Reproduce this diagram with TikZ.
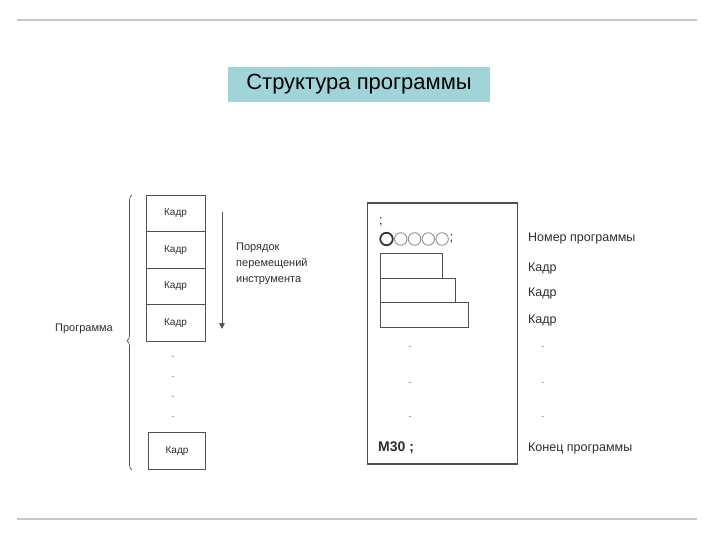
\documentclass[tikz,border=0pt]{standalone}
\usepackage{fontspec}
\setmainfont{Liberation Sans}
\usepackage{xcolor}
\usepackage{tikz}
\usetikzlibrary{arrows.meta,positioning,decorations.pathreplacing}
\definecolor{ink}{HTML}{2E2E2E}
\definecolor{pencil}{HTML}{505050}
\definecolor{rule}{HTML}{C8C8C8}
\definecolor{banner}{HTML}{A0D4D8}
\definecolor{faint}{HTML}{909090}
\tikzset{
  frame/.style={
    draw=pencil, line width=0.8pt, minimum width=59pt, minimum height=36.5pt,
    inner sep=0pt, font=\fontsize{10}{12}\selectfont\color{ink}},
  blockbar/.style={draw=pencil, line width=1pt, inner sep=0pt, minimum height=24.5pt, anchor=north west},
  note/.style={font=\fontsize{11}{16}\selectfont\color{ink}, align=left, inner sep=0pt, anchor=west},
  tag/.style={font=\fontsize{12.5}{14}\selectfont\color{ink}, inner sep=0pt, anchor=west},
  dotmark/.style={font=\fontsize{10}{10}\selectfont\color{faint}, inner sep=0pt},
  ring/.style={circle, draw=faint, line width=0.9pt, minimum size=12.5pt, inner sep=0pt},
}

\begin{document}
\begin{tikzpicture}[x=1pt, y=-1pt]
  \useasboundingbox (0,0) rectangle (720,540);
  \coordinate (rl) at (17,20);  \coordinate (rr) at (697,20);
  \coordinate (bl) at (17,519); \coordinate (br) at (697,519);
  \draw[rule, line width=1.2pt] (rl) -- (rr);
  \draw[rule, line width=1.2pt] (bl) -- (br);

  % title
  \node[fill=banner, minimum width=262pt, minimum height=35pt, inner sep=0pt,
        font=\fontsize{22}{24}\selectfont] (title) at (359,84.5) {Структура программы};

  % program as a column of blocks
  \node[frame] (k1) at (175.5,213.5) {Кадр};
  \node[frame, below=-0.8pt of k1] (k2) {Кадр};
  \node[frame, below=-0.8pt of k2] (k3) {Кадр};
  \node[frame, below=-0.8pt of k3] (k4) {Кадр};
  \foreach \y [count=\i] in {358,378,398,418}
    \node[dotmark] (ld\i) at (173,\y) {-};
  \node[frame, minimum width=57pt] (kn) at (177,451) {Кадр};

  \coordinate (btop) at (132,195);
  \coordinate (bbot) at (132,470);
  \draw[pencil, line width=0.7pt, decorate, decoration={brace, amplitude=5pt, aspect=0.47}] (bbot) -- (btop);
  \node[font=\fontsize{11}{13}\selectfont\color{ink}, inner sep=0pt] (prog) at (84,329) {Программа};

  \coordinate (atop) at (222,212);
  \coordinate (abot) at (222,329);
  \draw[pencil, line width=0.7pt, -{Triangle[length=6pt,width=5.5pt]}] (atop) -- (abot);
  \node[note] (order) at (236,264) {Порядок\\перемещений\\инструмента};

  % program listing
  \node[draw=pencil, line width=1.3pt, minimum width=150pt, minimum height=261pt, inner sep=0pt] (sheet) at (442.5,333.5) {};
  \node[font=\fontsize{13}{13}\selectfont\color{ink}, inner sep=0pt] (semi) at (381,222) {;};
  \node[ring, draw=ink, line width=1.7pt] (c0) at (386.5,239) {};
  \foreach \i [count=\j from 0] in {1,...,4}
    \node[ring, right=0.4pt of c\j] (c\i) {};
  \node[font=\fontsize{13}{13}\selectfont\color{ink}, inner sep=0pt, right=0.5pt of c4] (csemi) {;};

  \node[blockbar, minimum width=62pt] (b1) at (380,253) {};
  \node[blockbar, minimum width=75pt] (b2) at (380,277.5) {};
  \node[blockbar, minimum width=87.5pt] (b3) at (380,302) {};

  \foreach \y [count=\i] in {348,384,418} {
    \node[dotmark] (pd\i) at (410,\y) {-};
    \node[dotmark] (td\i) at (543,\y) {-};
  }
  \node[font=\fontsize{14}{14}\selectfont\bfseries\color{ink}, inner sep=0pt, anchor=west] (end) at (378,448) {M30 ;};

  \node[tag] (num) at (528,238) {Номер программы};
  \node[tag] (t1) at (528,268) {Кадр};
  \node[tag] (t2) at (528,293) {Кадр};
  \node[tag] (t3) at (528,320) {Кадр};
  \node[tag] (fin) at (528,448) {Конец программы};
\end{tikzpicture}
\end{document}
